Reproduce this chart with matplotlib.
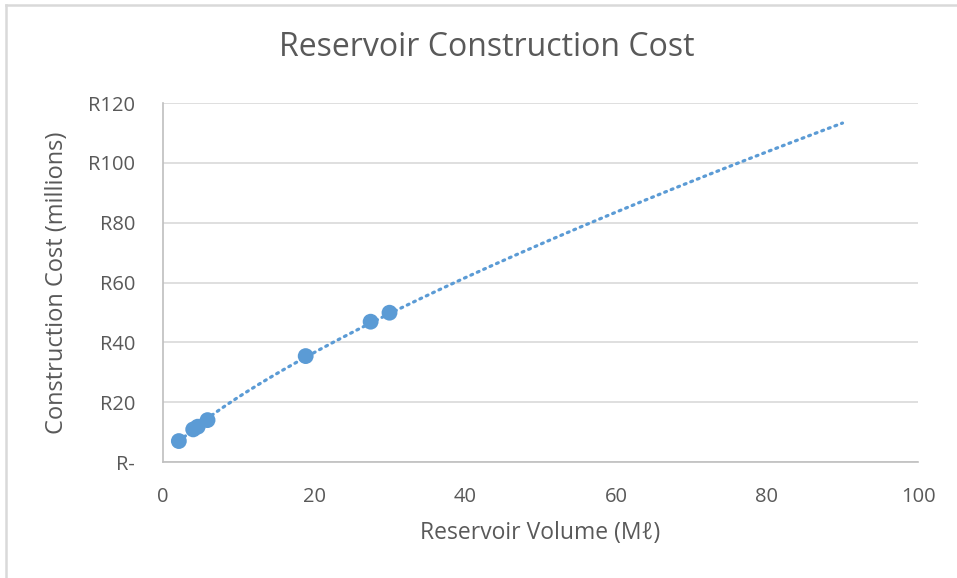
import numpy as np
import matplotlib.pyplot as plt
from matplotlib.lines import Line2D
from matplotlib.ticker import FixedLocator, FuncFormatter

# reservoir size (Ml) vs construction cost (R millions)
volume = [2.1, 4.0, 4.6, 5.9, 18.9, 27.5, 30.0]
cost = [7.0, 10.9, 11.8, 14.0, 35.4, 46.9, 49.9]
trend_end = 90  # forecast the trendline forward to 90 Ml

x_ticks = [0, 20, 40, 60, 80, 100]
y_ticks = [0, 20, 40, 60, 80, 100, 120]

blue = "#5B9BD5"
text_grey = "#595959"
grid_grey = "#D9D9D9"

plt.rcParams["font.family"] = ["Open Sans", "DejaVu Sans"]

fig = plt.figure(figsize=(9.57, 5.78), dpi=100)
ax = fig.add_axes([163 / 957, 1 - 462 / 578, (918 - 163) / 957, (462 - 103) / 578])

# power trendline fitted in log space, like Excel's power trendline
b, ln_a = np.polyfit(np.log(volume), np.log(cost), 1)
xs = np.linspace(min(volume), trend_end, 200)
ax.plot(xs, np.exp(ln_a) * xs ** b, color=blue, lw=2.3, ls=(0, (0.6, 1.6)),
        dash_capstyle="round", zorder=2)

ax.scatter(volume, cost, s=130, color=blue, edgecolors="none", zorder=3)

ax.set_xlim(0, 100)
ax.set_ylim(0, 120)
ax.xaxis.set_major_locator(FixedLocator(x_ticks))
ax.yaxis.set_major_locator(FixedLocator(y_ticks))
ax.yaxis.set_major_formatter(FuncFormatter(lambda v, p: "R-" if v == 0 else f"R{v:.0f}"))

ax.grid(axis="y", color=grid_grey, lw=1.2)
ax.set_axisbelow(True)
for side in ["top", "right"]:
    ax.spines[side].set_visible(False)
for side in ["left", "bottom"]:
    ax.spines[side].set_color("#BFBFBF")
    ax.spines[side].set_linewidth(1.2)
ax.tick_params(length=0, labelsize=14.5, colors=text_grey)
ax.tick_params(axis="y", pad=20)
ax.tick_params(axis="x", pad=18)

ax.set_xlabel("Reservoir Volume (M\u2113)", fontsize=16.5, color=text_grey)
ax.set_ylabel("Construction Cost (millions)", fontsize=17, color=text_grey)
ax.xaxis.set_label_coords(0.5, -(533 - 462) / 359)
ax.yaxis.set_label_coords(-(163 - 57) / 755, 0.5)
ax.xaxis.label.set_va("center")
ax.yaxis.label.set_va("center")
fig.text(487 / 957, 1 - 48 / 578, "Reservoir Construction Cost", ha="center", va="center",
         fontsize=23, color=text_grey)

# chart area border along the top and left edges
fig.add_artist(Line2D([6 / 957, 6 / 957], [0, 1 - 5 / 578], transform=fig.transFigure,
                      color=grid_grey, lw=1.8))
fig.add_artist(Line2D([6 / 957, 1], [1 - 5 / 578, 1 - 5 / 578], transform=fig.transFigure,
                      color=grid_grey, lw=1.8))

fig.savefig("out.png", dpi=100)
